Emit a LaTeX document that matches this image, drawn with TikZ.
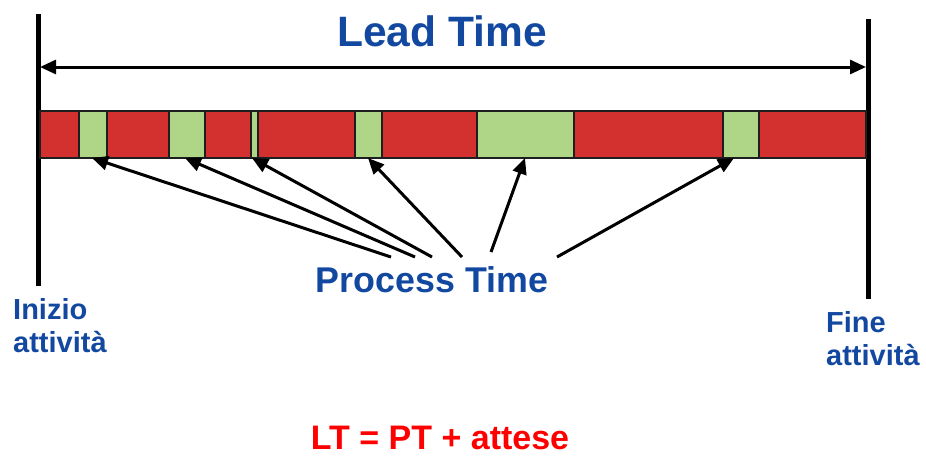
\documentclass[tikz,border=0pt]{standalone}
\usepackage{fontspec}
\setmainfont{Liberation Sans}
\usetikzlibrary{arrows.meta}
\definecolor{ltblue}{RGB}{18,72,160}
\definecolor{waitred}{RGB}{211,49,48}
\definecolor{workgreen}{RGB}{175,214,135}
\definecolor{edgegray}{RGB}{30,30,30}
\tikzset{
  limit/.style={line width=5pt, black},
  waitbar/.style={fill=waitred, draw=edgegray, line width=1.2pt},
  work/.style={fill=workgreen, draw=edgegray, line width=1.2pt, minimum height=47pt, inner sep=0pt, outer sep=0pt},
  pointer/.style={line width=3pt, -{Triangle[length=16pt,width=14pt]}},
  span/.style={line width=3pt, {Triangle[length=16pt,width=14pt]}-{Triangle[length=16pt,width=14pt]}},
  bluetext/.style={text=ltblue, font=\bfseries},
}
\begin{document}
\begin{tikzpicture}[x=1pt,y=-1pt]
\useasboundingbox (0,0) rectangle (926,456);

% start and end of the activity
\coordinate (s1) at (38,14);
\coordinate (s2) at (38,286);
\coordinate (e1) at (868,19);
\coordinate (e2) at (868,299);
\draw[limit] (s1) -- (s2);
\draw[limit] (e1) -- (e2);

% lead time span
\coordinate (la) at (40,67);
\coordinate (lb) at (866,67);
\draw[span] (la) -- (lb);
\node[bluetext, font=\bfseries\fontsize{42.5}{46}\selectfont, anchor=base] (lt) at (442,46) {Lead Time};

% waiting time bar
\draw[waitbar] (40,111) rectangle (866,158);

% process steps
\node[work, minimum width=28pt] (g1) at (93,134.5) {};
\node[work, minimum width=36pt] (g2) at (187,134.5) {};
\node[work, minimum width=7pt]  (g3) at (254.5,134.5) {};
\node[work, minimum width=27pt] (g4) at (368.5,134.5) {};
\node[work, minimum width=97pt] (g5) at (525.5,134.5) {};
\node[work, minimum width=36pt] (g6) at (741,134.5) {};

% process time label and its pointers
\node[bluetext, font=\bfseries\fontsize{35.8}{40}\selectfont, anchor=base] (pt) at (432,292) {Process Time};
\coordinate (p1) at (391,257);
\coordinate (p2) at (415,257);
\coordinate (p3) at (432,257);
\coordinate (p4) at (462,257);
\coordinate (p5) at (491,252);
\coordinate (p6) at (557,257);
\draw[pointer] (p1) -- ([xshift=-1pt]g1.south);
\draw[pointer] (p2) -- ([xshift=-2pt]g2.south);
\draw[pointer] (p3) -- ([xshift=-2.5pt]g3.south);
\draw[pointer] (p4) -- ([xshift=-0.5pt]g4.south);
\draw[pointer] (p5) -- ([xshift=-0.5pt]g5.south);
\draw[pointer] (p6) -- ([xshift=-7pt]g6.south);

% end labels (anchored on the baseline of their last line)
\node[bluetext, font=\bfseries\fontsize{29}{33}\selectfont, anchor=base west, align=left, inner sep=0pt] (start) at (13,352) {Inizio\\attività};
\node[bluetext, font=\bfseries\fontsize{29}{33}\selectfont, anchor=base west, align=left, inner sep=0pt] (end) at (826,365) {Fine\\attività};

% formula
\node[text=red, font=\bfseries\fontsize{34}{38}\selectfont, anchor=base] (formula) at (440,449) {LT = PT + attese};
\end{tikzpicture}
\end{document}
